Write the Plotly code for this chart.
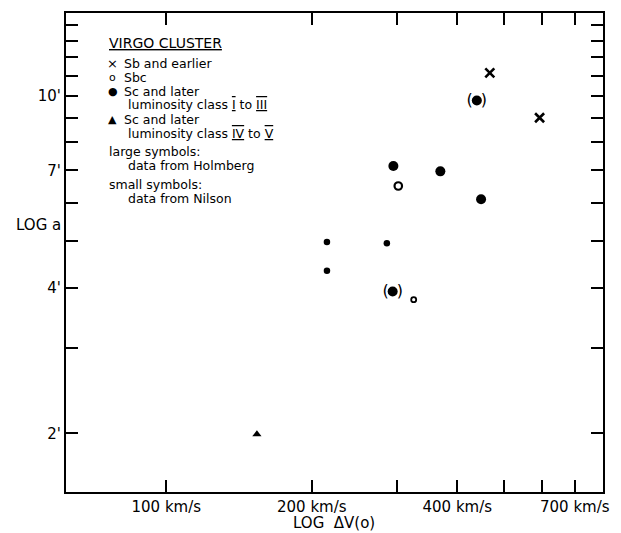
import plotly.graph_objects as go

# ---------------- data ----------------
# x: velocity dispersion  ΔV(o) [km/s], y: diameter a [arcmin]
sb_v = [467, 592]
sb_a = [11.15, 9.0]

sbc_large_v = [302]
sbc_large_a = [6.5]
sbc_small_v = [325]
sbc_small_a = [3.78]

sc_large_v = [295, 369, 448]
sc_large_a = [7.15, 6.97, 6.1]
sc_paren_v = [439, 294]          # large symbols shown in parentheses
sc_paren_a = [9.77, 3.93]
sc_small_v = [215, 286, 215]
sc_small_a = [4.98, 4.95, 4.34]

sc45_v = [154]
sc45_a = [1.99]

x_tick_vals = [100, 200, 300, 400, 500, 600, 700]
x_tick_text = ["100 km/s", "200 km/s", "", "400 km/s", "", "", "700 km/s"]
y_tick_vals = [2, 3, 4, 5, 6, 7, 8, 9, 10, 11, 12, 13, 14]
y_tick_text = ["2'", "", "4'", "", "", "7'", "", "", "10'", "", "", "", ""]

legend_title = "VIRGO CLUSTER"
legend_symbols = ["×", "o", "●", "▲"]
bar = "<span style='text-decoration:underline overline'>%s</span>"
legend_lines = [
    "Sb and earlier",
    "Sbc",
    "Sc and later",
    "luminosity class " + bar % "I" + " to " + bar % "III",
    "Sc and later",
    "luminosity class " + bar % "IV" + " to " + bar % "V",
    "large symbols:",
    "data from Holmberg",
    "small symbols:",
    "data from Nilson",
]

# ---------------- layout geometry ----------------
W, H = 621, 533
ML, MR, MT, MB = 66, 14, 11, 41
PW, PH = W - ML - MR, H - MT - MB
FONT = "DejaVu Sans"


def px(xp):
    return (xp - ML) / PW


def py(yp):
    return (H - MB - yp) / PH


fig = go.Figure()

black = "black"
fig.add_trace(go.Scatter(x=sb_v, y=sb_a, mode="markers",
                         marker=dict(symbol="x-thin", size=9, color=black,
                                     line=dict(width=2.6, color=black))))
fig.add_trace(go.Scatter(x=sbc_large_v, y=sbc_large_a, mode="markers",
                         marker=dict(symbol="circle-open", size=7.5, color=black,
                                     line=dict(width=2.2, color=black))))
fig.add_trace(go.Scatter(x=sbc_small_v, y=sbc_small_a, mode="markers",
                         marker=dict(symbol="circle-open", size=5, color=black,
                                     line=dict(width=1.8, color=black))))
fig.add_trace(go.Scatter(x=sc_large_v, y=sc_large_a, mode="markers",
                         marker=dict(symbol="circle", size=10, color=black)))
fig.add_trace(go.Scatter(x=sc_paren_v, y=sc_paren_a, mode="markers+text",
                         text=["(\u2002)"] * len(sc_paren_v),
                         textposition="middle center",
                         textfont=dict(family=FONT, size=16, color=black),
                         marker=dict(symbol="circle", size=10, color=black)))
fig.add_trace(go.Scatter(x=sc_small_v, y=sc_small_a, mode="markers",
                         marker=dict(symbol="circle", size=6.5, color=black)))
fig.add_trace(go.Scatter(x=sc45_v, y=sc45_a, mode="markers",
                         marker=dict(symbol="triangle-up", size=8, color=black)))

axis_common = dict(
    type="log", showgrid=False, zeroline=False,
    showline=True, linecolor=black, linewidth=2, mirror="ticks",
    ticks="inside", ticklen=12, tickwidth=1.6, tickcolor=black,
    tickfont=dict(family=FONT, size=15, color=black),
)

fig.update_xaxes(range=[1.7926, 2.9035], tickmode="array",
                 tickvals=x_tick_vals, ticktext=x_tick_text, **axis_common)
fig.update_yaxes(range=[0.1794, 1.1711], tickmode="array",
                 tickvals=y_tick_vals, ticktext=y_tick_text, **axis_common)

ann = []
# axis titles
ann.append(dict(text="LOG  ΔV(o)", x=px(336), y=py(523), xref="paper", yref="paper",
                showarrow=False, xanchor="center", yanchor="middle",
                font=dict(family=FONT, size=15, color=black)))
ann.append(dict(text="LOG a", x=px(38), y=py(224), xref="paper", yref="paper",
                showarrow=False, xanchor="center", yanchor="middle",
                font=dict(family=FONT, size=15, color=black)))

# legend block
ann.append(dict(text="<u>" + legend_title + "</u>", x=px(107), y=py(41),
                xref="paper", yref="paper", showarrow=False,
                xanchor="left", yanchor="middle",
                font=dict(family=FONT, size=14, color=black)))
rows_y = [62, 76, 90, 103, 118, 132, 150, 164, 183, 197]
rows_x = [122, 122, 122, 126, 122, 126, 107, 126, 107, 126]
for t, xx, yy in zip(legend_lines, rows_x, rows_y):
    ann.append(dict(text=t, x=px(xx), y=py(yy), xref="paper", yref="paper",
                    showarrow=False, xanchor="left", yanchor="middle",
                    font=dict(family=FONT, size=12.5, color=black)))
sym_rows = [62, 76, 90, 118]
sym_sizes = [13, 11, 11, 11]
for s, yy, fs in zip(legend_symbols, sym_rows, sym_sizes):
    ann.append(dict(text=s, x=px(113), y=py(yy), xref="paper", yref="paper",
                    showarrow=False, xanchor="center", yanchor="middle",
                    font=dict(family=FONT, size=fs, color=black)))

fig.update_layout(
    width=W, height=H, showlegend=False,
    margin=dict(l=ML, r=MR, t=MT, b=MB, pad=0),
    paper_bgcolor="white", plot_bgcolor="white",
    font=dict(family=FONT, color=black),
    annotations=ann,
)

fig.write_html("out.html")
